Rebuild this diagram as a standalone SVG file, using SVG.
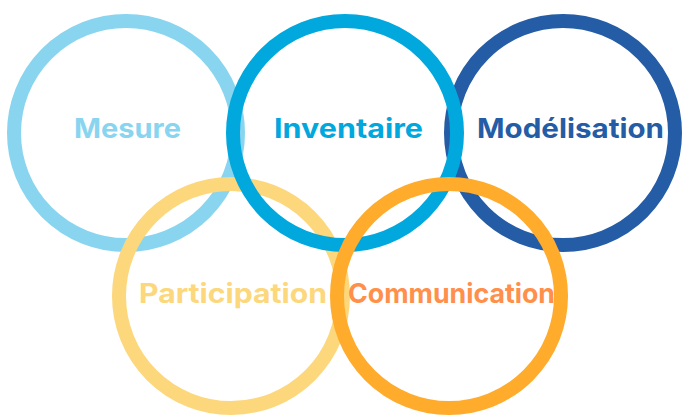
<svg xmlns="http://www.w3.org/2000/svg" width="685" height="417" viewBox="0 0 685 417">
  <style>
    .ring { fill: none; stroke-width: 14; }
    .lbl { font-family: Inter, "Open Sans", "Liberation Sans", sans-serif; font-weight: 700; font-size: 27px; }
  </style>
  <rect width="685" height="417" fill="#ffffff"/>
  <g id="connectors"/>
  <g id="mesure">
    <circle class="ring" cx="126" cy="133" r="112" stroke="#89d5f0"/>
    <text class="lbl" x="74" y="138" textLength="107" lengthAdjust="spacingAndGlyphs" fill="#89d5f0">Mesure</text>
  </g>
  <g id="modelisation">
    <circle class="ring" cx="563" cy="133" r="112" stroke="#245ca6"/>
    <text class="lbl" x="477" y="138" textLength="187" lengthAdjust="spacingAndGlyphs" fill="#245ca6">Modélisation</text>
  </g>
  <g id="participation">
    <circle class="ring" cx="231" cy="296" r="112" stroke="#fcd77c"/>
    <text class="lbl" x="139" y="303" textLength="188" lengthAdjust="spacingAndGlyphs" fill="#fcd77c">Participation</text>
  </g>
  <g id="inventaire">
    <circle class="ring" cx="345" cy="133" r="112" stroke="#00a8de"/>
    <text class="lbl" x="274" y="138" textLength="149" lengthAdjust="spacingAndGlyphs" fill="#00a8de">Inventaire</text>
  </g>
  <g id="communication">
    <circle class="ring" cx="449" cy="296" r="112" stroke="#ffab2c"/>
    <text class="lbl" x="348" y="303" textLength="207" lengthAdjust="spacingAndGlyphs" fill="#ff8f4b">Communication</text>
  </g>
</svg>
